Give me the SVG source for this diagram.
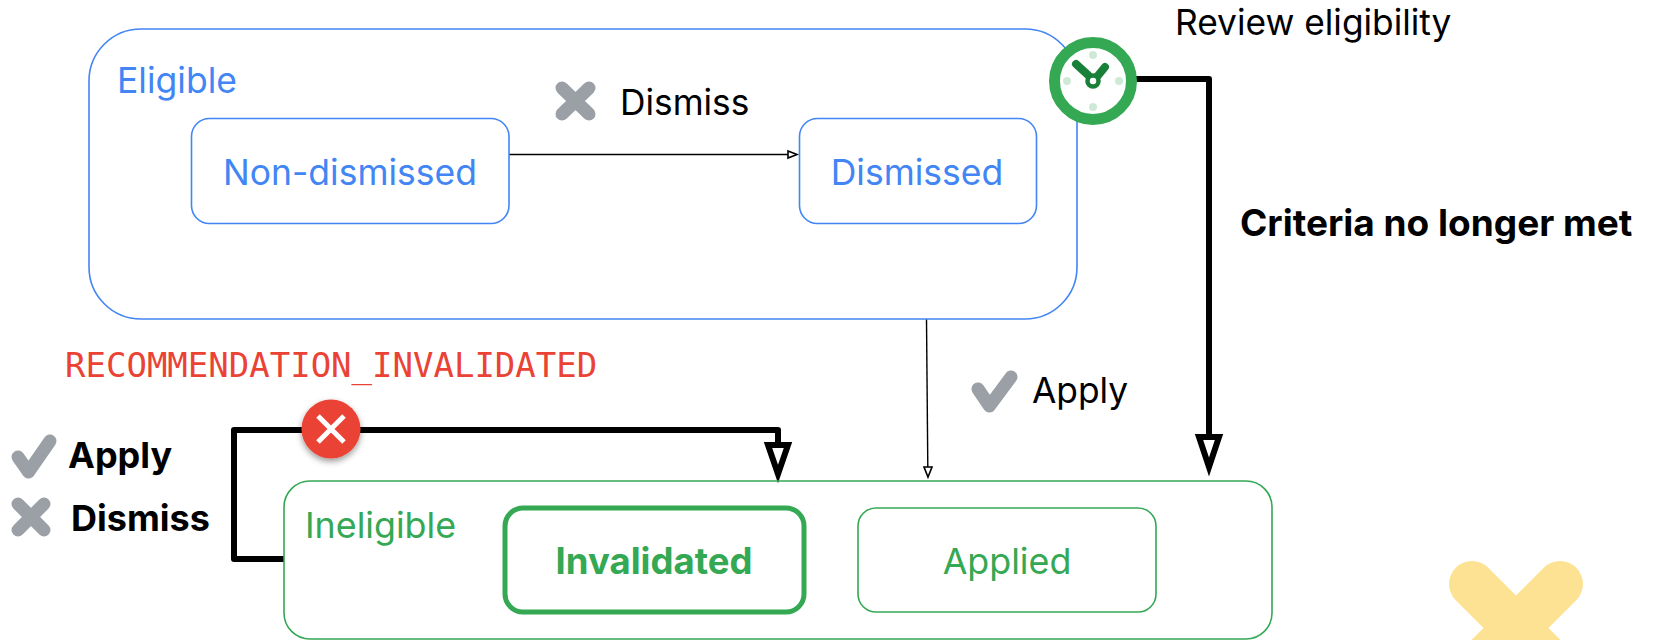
<svg xmlns="http://www.w3.org/2000/svg" width="1653" height="640" viewBox="0 0 1653 640">
<defs>
<style>
text{font-family:"Inter","Noto Sans","Liberation Sans",sans-serif}
.blue{fill:none;stroke:#4285f4;stroke-width:1.6}
.green{fill:none;stroke:#34a853;stroke-width:1.6}
.tb{fill:#4285f4;font-size:35.500px}
.tg{fill:#34a853;font-size:35.800px}
.lbl{fill:#000;font-size:35.300px}
.bold{fill:#000;font-size:36px;font-weight:700}
.conn{fill:none;stroke:#000;stroke-linejoin:round}
.ah{fill:#fff;stroke:#000;stroke-linejoin:miter}
.x{fill:none;stroke:#9aa0a6;stroke-width:13;stroke-linecap:round}
.c{fill:none;stroke:#9aa0a6;stroke-width:13;stroke-linecap:round;stroke-linejoin:round}
</style>
<filter id="sh" x="-30%" y="-30%" width="160%" height="170%"><feDropShadow dx="0" dy="3" stdDeviation="3" flood-color="#000" flood-opacity="0.4"/></filter>
</defs>
<rect width="1653" height="640" fill="#fff"/>
<g id="connectors">
<path class="conn" stroke-width="1.6" d="M509 154.500H793"/>
<path class="ah" stroke-width="1.600" d="M788 151L797 154.500L788 158Z"/>
<path class="conn" stroke-width="1.400" d="M926.500 319L927.800 467"/>
<path class="ah" stroke-width="1.600" d="M924 467H932L928 477Z"/>
<path class="conn" stroke-width="6" d="M1130 79H1209V435"/>
<path class="ah" stroke-width="6" d="M1199 437H1219L1209 467Z"/>
<path class="conn" stroke-width="6" d="M284 559H234V430H778V443"/>
<path class="ah" stroke-width="6" d="M768 445H788L778 474Z"/>
</g>
<g id="eligible">
<rect class="blue" x="89" y="29" width="988" height="290" rx="52"/>
<text class="tb" x="117" y="93">Eligible</text>
</g>
<g id="non-dismissed">
<rect class="blue" x="191.500" y="118.500" width="317.500" height="105" rx="18"/>
<text class="tb" x="350" y="185" text-anchor="middle">Non-dismissed</text>
</g>
<g id="dismissed">
<rect class="blue" x="799.500" y="118.500" width="237" height="105" rx="18"/>
<text class="tb" x="917" y="185" text-anchor="middle">Dismissed</text>
</g>
<g id="ineligible">
<rect class="green" x="284" y="481" width="988" height="158" rx="26"/>
<text class="tg" x="305" y="538">Ineligible</text>
</g>
<g id="invalidated">
<rect fill="none" stroke="#34a853" stroke-width="5" x="505" y="508" width="299" height="104" rx="18"/>
<text x="654" y="574" text-anchor="middle" fill="#34a853" font-size="36.500" font-weight="700">Invalidated</text>
</g>
<g id="applied">
<rect class="green" x="858" y="508" width="298" height="104" rx="18"/>
<text class="tg" x="1007" y="574" text-anchor="middle">Applied</text>
</g>
<g id="clock">
<circle cx="1093" cy="81" r="38.500" fill="#fff" stroke="#34a853" stroke-width="11"/>
<g fill="#ceead6"><circle cx="1093" cy="55" r="4"/><circle cx="1093" cy="107" r="4"/><circle cx="1067" cy="81" r="4"/><circle cx="1119" cy="81" r="4"/></g>
<path d="M1076 64L1088 75M1105 67L1096 78" fill="none" stroke="#188038" stroke-width="8" stroke-linecap="round"/>
<circle cx="1093" cy="81" r="5.500" fill="#fff" stroke="#188038" stroke-width="4.500"/>
</g>
<g id="reject">
<circle cx="331" cy="429" r="29.500" fill="#ea4335" filter="url(#sh)"/>
<path d="M318 416L344 442M344 416L318 442" stroke="#fff" stroke-width="5" fill="none"/>
</g>
<g id="labels">
<text x="1175" y="35" class="lbl">Review eligibility</text>
<text x="1240" y="236" class="bold" style="font-size:37px">Criteria no longer met</text>
<text x="65" y="377" fill="#ea4335" font-size="34" style="font-family:'DejaVu Sans Mono','Liberation Mono',monospace">RECOMMENDATION_INVALIDATED</text>
<path class="x" d="M562 88L589 114M589 88L562 114"/>
<text x="620" y="115" class="lbl">Dismiss</text>
<path class="c" d="M978 389L989.500 406L1011 377"/>
<text x="1032" y="403" class="lbl">Apply</text>
<path class="c" d="M18 457L28.500 472L50 441"/>
<text x="68" y="468" class="bold">Apply</text>
<path class="x" d="M18 504L44 530M44 504L18 530"/>
<text x="71" y="531" class="bold">Dismiss</text>
<path d="M1472 584L1516 628M1560 584L1516 628M1516 628L1472 672M1516 628L1560 672" fill="none" stroke="#fde293" stroke-width="46" stroke-linecap="round"/>
</g>
</svg>
